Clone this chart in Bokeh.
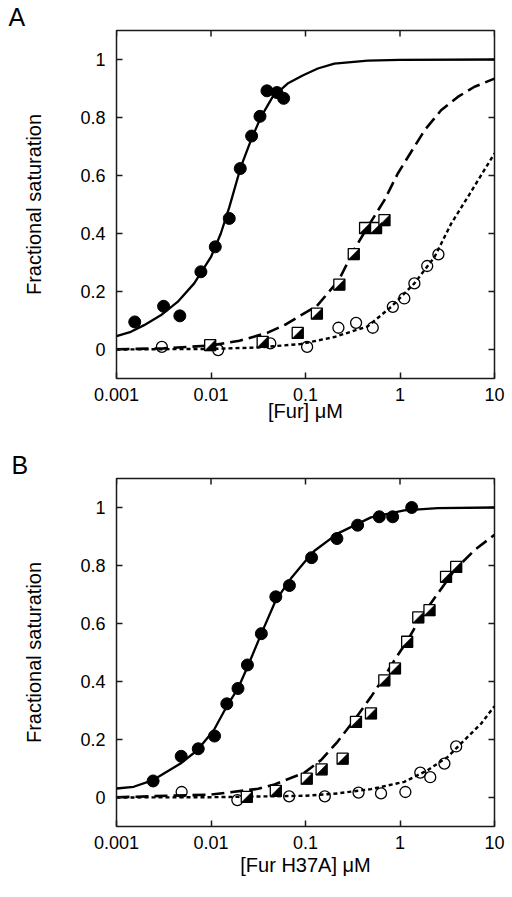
import numpy as np
from bokeh.plotting import figure
from bokeh.models import FixedTicker
from bokeh.layouts import column
from bokeh.embed import file_html
from bokeh.resources import INLINE

# ---------------- Panel A data ([Fur] µM) ----------------
a_filled_x = [0.00156, 0.00315, 0.00468, 0.00782, 0.0111, 0.0156, 0.0204, 0.0269, 0.0330, 0.0391, 0.0499, 0.0587]
a_filled_y = [0.095, 0.149, 0.116, 0.268, 0.354, 0.452, 0.624, 0.736, 0.804, 0.892, 0.886, 0.866]

a_square_x = [0.0098, 0.0352, 0.0827, 0.132, 0.228, 0.324, 0.427, 0.558, 0.684]
a_square_y = [0.015, 0.026, 0.057, 0.124, 0.224, 0.329, 0.419, 0.419, 0.446]

a_open_x = [0.00302, 0.0119, 0.0424, 0.104, 0.223, 0.343, 0.515, 0.839, 1.11, 1.42, 1.94, 2.55]
a_open_y = [0.009, -0.002, 0.021, 0.009, 0.075, 0.092, 0.075, 0.147, 0.176, 0.228, 0.288, 0.328]

a_solid_x = [0.001, 0.00142, 0.00196, 0.00294, 0.00443, 0.00664, 0.0100, 0.0127, 0.0156, 0.0207,
             0.0265, 0.0338, 0.0449, 0.0647, 0.0933, 0.135, 0.202, 0.456, 1.0, 10.0]
a_solid_y = [0.046, 0.061, 0.084, 0.118, 0.164, 0.228, 0.319, 0.400, 0.490, 0.630,
             0.722, 0.802, 0.871, 0.917, 0.945, 0.969, 0.986, 0.996, 0.999, 1.0]

a_dash_x = [0.001, 0.00316, 0.01, 0.02, 0.0398, 0.0631, 0.0891, 0.132, 0.225, 0.324,
            0.456, 0.684, 0.948, 1.31, 1.82, 2.72, 4.09, 6.14, 10.0]
a_dash_y = [0.001, 0.004, 0.014, 0.030, 0.058, 0.088, 0.118, 0.150, 0.239, 0.342,
            0.423, 0.515, 0.607, 0.681, 0.756, 0.825, 0.871, 0.906, 0.934]

a_dot_x = [0.001, 0.01, 0.0316, 0.0895, 0.202, 0.456, 0.805, 1.42, 2.32, 3.48, 5.22, 10.0]
a_dot_y = [0.0, 0.002, 0.007, 0.019, 0.043, 0.080, 0.147, 0.228, 0.319, 0.434, 0.526, 0.676]

# ---------------- Panel B data ([Fur H37A] µM) ----------------
b_filled_x = [0.00244, 0.00484, 0.00733, 0.0109, 0.0147, 0.0193, 0.0243, 0.0341, 0.0485, 0.0676,
              0.116, 0.215, 0.356, 0.604, 0.836, 1.33]
b_filled_y = [0.057, 0.142, 0.168, 0.212, 0.323, 0.376, 0.457, 0.565, 0.692, 0.731,
              0.827, 0.893, 0.939, 0.968, 0.968, 1.0]

b_square_x = [0.0239, 0.0485, 0.103, 0.148, 0.247, 0.342, 0.493, 0.682, 0.885, 1.19, 1.56, 2.05, 3.07, 3.93]
b_square_y = [0.002, 0.023, 0.065, 0.097, 0.134, 0.261, 0.290, 0.404, 0.445, 0.537, 0.621, 0.646, 0.761, 0.795]

b_open_x = [0.00489, 0.019, 0.0671, 0.160, 0.364, 0.63, 1.14, 1.64, 2.09, 2.95, 3.93]
b_open_y = [0.019, -0.009, 0.004, 0.004, 0.017, 0.014, 0.019, 0.086, 0.070, 0.117, 0.176]

b_solid_x = [0.001, 0.00152, 0.00244, 0.00476, 0.00716, 0.0107, 0.0149, 0.0193, 0.0243, 0.0341,
             0.0485, 0.070, 0.0968, 0.1236, 0.218, 0.493, 1.11, 2.51, 10.0]
b_solid_y = [0.031, 0.037, 0.060, 0.117, 0.163, 0.232, 0.318, 0.376, 0.450, 0.565,
             0.680, 0.755, 0.810, 0.850, 0.910, 0.966, 0.990, 0.998, 1.0]

b_dash_x = [0.001, 0.01, 0.0316, 0.047, 0.0968, 0.146, 0.218, 0.328, 0.493, 0.682,
            0.871, 1.205, 1.67, 2.51, 3.77, 6.14, 10.0]
b_dash_y = [0.001, 0.010, 0.030, 0.045, 0.085, 0.129, 0.192, 0.267, 0.347, 0.416,
            0.473, 0.542, 0.623, 0.703, 0.784, 0.853, 0.906]

b_dot_x = [0.001, 0.01, 0.1, 0.218, 0.493, 1.11, 1.96, 3.2, 4.81, 7.23, 10.0]
b_dot_y = [0.0, 0.001, 0.006, 0.014, 0.029, 0.054, 0.094, 0.140, 0.198, 0.255, 0.315]

# ---------------- axes ----------------
x_ticks = [0.001, 0.01, 0.1, 1, 10]
x_tick_labels = ["0.001", "0.01", "0.1", "1", "10"]
y_ticks = [0, 0.2, 0.4, 0.6, 0.8, 1.0]
y_tick_labels = ["0", "0.2", "0.4", "0.6", "0.8", "1"]

FONT = "Liberation Sans"
FW, FH = 378, 348
X_RANGE = (0.001, 10)
Y_RANGE = (-0.1, 1.1)
TICK = 6  # inward tick length in px
INK = "#1a1a1a"


def style_axis(ax, ticks, labels, standoff):
    ax.ticker = FixedTicker(ticks=ticks, minor_ticks=[])
    ax.major_label_overrides = {t: l for t, l in zip(ticks, labels)}
    ax.major_tick_in = TICK
    ax.major_tick_out = 0
    ax.minor_tick_in = 0
    ax.minor_tick_out = 0
    ax.major_tick_line_color = INK
    ax.major_tick_line_width = 1.5
    ax.axis_line_color = None
    ax.major_label_text_font = FONT
    ax.major_label_text_color = "black"
    ax.major_label_text_font_size = "18px"
    ax.major_label_standoff = standoff


def make_panel(letter, xlabel, solid, dash, dot, filled, squares, opens, borders, xlab_standoff):
    left, right, top, bottom = borders
    p = figure(frame_width=FW, frame_height=FH, x_axis_type="log",
               x_range=X_RANGE, y_range=Y_RANGE,
               output_backend="svg", toolbar_location=None,
               min_border_left=left, min_border_right=right,
               min_border_top=top, min_border_bottom=bottom,
               background_fill_color="white", border_fill_color="white")
    p.grid.visible = False
    p.outline_line_color = INK
    p.outline_line_width = 1.5

    # panel letter
    p.title.text = letter
    p.title.align = "left"
    p.title.offset = 8 - left
    p.title.standoff = 0
    p.title.text_font = FONT
    p.title.text_font_size = "25px"
    p.title.text_font_style = "normal"
    p.title.text_color = "black"

    xa = p.xaxis[0]
    ya = p.yaxis[0]
    style_axis(xa, x_ticks, x_tick_labels, standoff=9)
    style_axis(ya, y_ticks, y_tick_labels, standoff=11)
    xa.axis_label = xlabel
    ya.axis_label = "Fractional saturation"
    for ax in (xa, ya):
        ax.axis_label_text_font = FONT
        ax.axis_label_text_font_size = "20px"
        ax.axis_label_text_font_style = "normal"
        ax.axis_label_text_color = "black"
    xa.axis_label_standoff = xlab_standoff
    ya.axis_label_standoff = 32

    # inward ticks on the top and right edges of the box
    n_x = len(x_ticks)
    n_y = len(y_ticks)
    top_y1 = Y_RANGE[1] - TICK / (FH / (Y_RANGE[1] - Y_RANGE[0]))
    p.segment(x0=x_ticks, y0=[Y_RANGE[1]] * n_x, x1=x_ticks, y1=[top_y1] * n_x,
              line_color=INK, line_width=1.5)
    right_x1 = X_RANGE[1] * 10 ** (-TICK / (FW / 4.0))
    p.segment(x0=[X_RANGE[1]] * n_y, y0=y_ticks, x1=[right_x1] * n_y, y1=y_ticks,
              line_color=INK, line_width=1.5)

    # fitted curves
    p.line(solid[0], solid[1], line_color="black", line_width=2.3)
    p.line(dash[0], dash[1], line_color="black", line_width=2.6, line_dash="13 6")
    p.line(dot[0], dot[1], line_color="black", line_width=2.4, line_dash="4 3")

    # open circles (transparent)
    p.scatter(opens[0], opens[1], marker="circle", size=11, fill_color=None,
              line_color="black", line_width=1.3)

    # half-filled squares: white square + black lower-right triangle
    p.scatter(squares[0], squares[1], marker="square", size=11, fill_color="white",
              line_color="black", line_width=1.3)
    h = 5.5
    dl = h / (FW / 4.0)
    dy = h / (FH / (Y_RANGE[1] - Y_RANGE[0]))
    sx = np.asarray(squares[0], dtype=float)
    sy = np.asarray(squares[1], dtype=float)
    tri_xs = [[x * 10 ** (-dl), x * 10 ** dl, x * 10 ** dl] for x in sx]
    tri_ys = [[y - dy, y - dy, y + dy] for y in sy]
    p.patches(tri_xs, tri_ys, fill_color="black", line_color="black", line_width=0.5)

    # filled circles
    p.scatter(filled[0], filled[1], marker="circle", size=12, fill_color="black",
              line_color="black")
    return p


pa = make_panel("A", "[Fur] \u03bcM",
                (a_solid_x, a_solid_y), (a_dash_x, a_dash_y), (a_dot_x, a_dot_y),
                (a_filled_x, a_filled_y), (a_square_x, a_square_y), (a_open_x, a_open_y),
                (116, 14, 30, 70), -4)
pb = make_panel("B", "[Fur H37A] \u03bcM",
                (b_solid_x, b_solid_y), (b_dash_x, b_dash_y), (b_dot_x, b_dot_y),
                (b_filled_x, b_filled_y), (b_square_x, b_square_y), (b_open_x, b_open_y),
                (113, 17, 30, 63), 2)

layout = column(pa, pb)
open("out.html", "w").write(file_html(layout, INLINE))
